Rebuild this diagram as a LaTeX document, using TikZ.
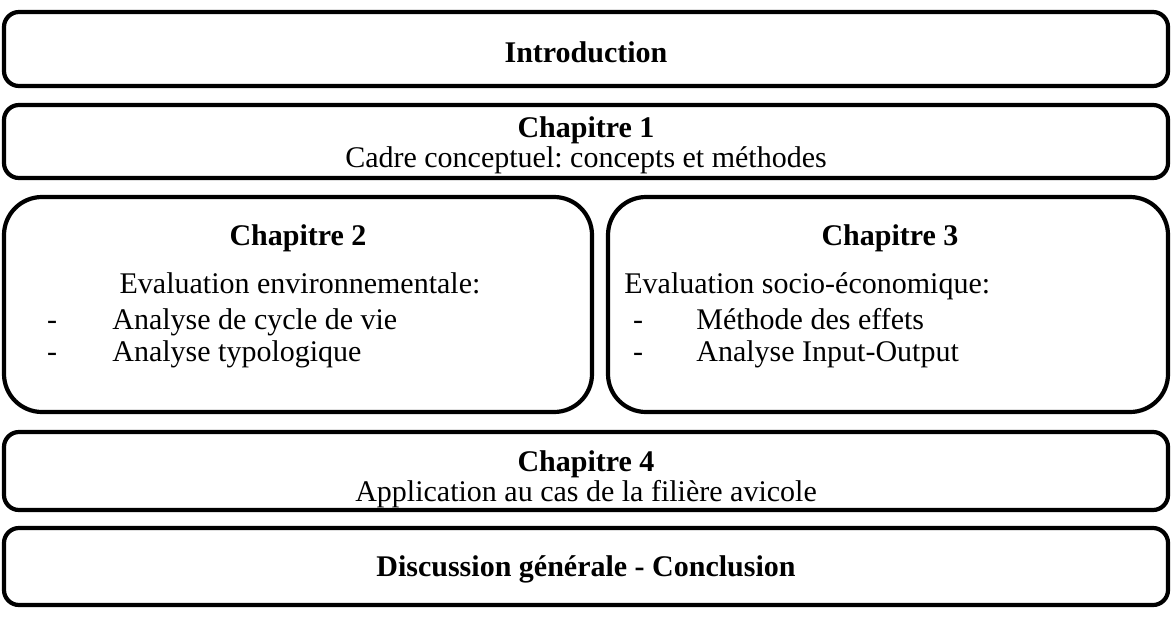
\documentclass[tikz,border=0pt]{standalone}
\usepackage{fontspec}
\setmainfont{Liberation Serif}
\frenchspacing
\begin{document}
\begin{tikzpicture}[x=0.5pt,y=-0.5pt,
  box/.style={draw, line width=2.1pt, rounded corners=7.5pt, inner sep=0pt, outer sep=0pt},
  bigbox/.style={draw, line width=2.1pt, rounded corners=19pt, inner sep=0pt, outer sep=0pt},
  txt/.style={inner sep=0pt, anchor=base, font=\fontsize{15}{17}\selectfont},
  ltxt/.style={txt, anchor=base west},
  btxt/.style={txt, font=\fontsize{15}{17}\selectfont\bfseries}]
\useasboundingbox (0,0) rectangle (1172,632);
% boxes
\node[box, minimum width=582pt, minimum height=37pt] (intro) at (586,49) {};
\node[box, minimum width=582pt, minimum height=36.5pt] (ch1) at (586,141.5) {};
\node[bigbox, minimum width=294pt, minimum height=107.5pt] (ch2) at (298,304.5) {};
\node[bigbox, minimum width=280pt, minimum height=107.5pt] (ch3) at (888,304.5) {};
\node[box, minimum width=582pt, minimum height=39pt] (ch4) at (586,471) {};
\node[box, minimum width=582pt, minimum height=38.5pt] (concl) at (586,566.5) {};
% texts
\node[btxt] (tintro) at (586,62) {Introduction};
\node[btxt] (tch1) at (586,137) {Chapitre 1};
\node[txt] (tch1b) at (586,167) {Cadre conceptuel: concepts et méthodes};
\node[btxt] (tch2) at (298,245) {Chapitre 2};
\node[txt] (tch2a) at (300,293) {Evaluation environnementale:};
\node[txt] (d21) at (52,329) {-};
\node[ltxt] (tch2b) at (112,329) {Analyse de cycle de vie};
\node[txt] (d22) at (52,361) {-};
\node[ltxt] (tch2c) at (112,361) {Analyse typologique};
\node[btxt] (tch3) at (890,245) {Chapitre 3};
\node[ltxt] (tch3a) at (624,293) {Evaluation socio-économique:};
\node[txt] (d31) at (638,329) {-};
\node[ltxt] (tch3b) at (696,329) {Méthode des effets};
\node[txt] (d32) at (638,361) {-};
\node[ltxt] (tch3c) at (696,361) {Analyse Input-Output};
\node[btxt] (tch4) at (586,471) {Chapitre 4};
\node[txt] (tch4b) at (586,501) {Application au cas de la filière avicole};
\node[btxt] (tconcl) at (586,576) {Discussion générale - Conclusion};
\end{tikzpicture}
\end{document}
